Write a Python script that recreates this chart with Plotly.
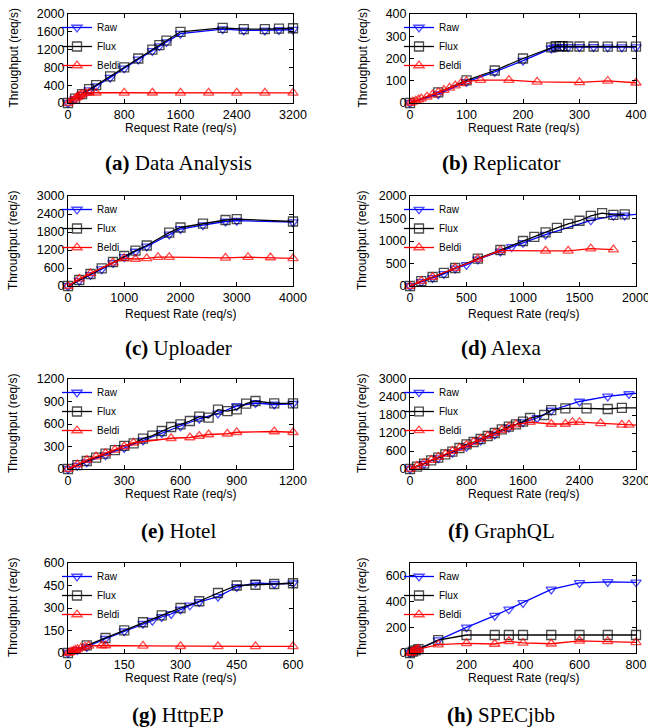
import plotly.graph_objects as go

W, H = 648, 728

# ---------------- data ----------------
# (a) Data Analysis
a_raw_x = [0, 100, 200, 300, 400, 600, 800, 1000, 1200, 1300, 1400, 1600, 2200, 2500, 2800, 3000, 3200]
a_raw_y = [0, 90, 190, 290, 380, 570, 780, 980, 1170, 1280, 1370, 1560, 1660, 1630, 1630, 1640, 1650]
a_flux_x = [0, 100, 200, 300, 400, 600, 800, 1000, 1200, 1300, 1400, 1600, 2200, 2500, 2800, 3000, 3200]
a_flux_y = [0, 100, 200, 310, 400, 600, 800, 1000, 1200, 1300, 1400, 1600, 1690, 1660, 1660, 1670, 1680]
a_beldi_x = [0, 50, 100, 125, 150, 175, 200, 250, 300, 400, 800, 1200, 1600, 2000, 2400, 2800, 3200]
a_beldi_y = [0, 50, 100, 125, 150, 175, 200, 220, 230, 230, 228, 230, 228, 228, 228, 228, 228]

# (b) Replicator
b_raw_x = [0, 50, 100, 150, 200, 250, 255, 260, 270, 280, 300, 325, 350, 375, 400]
b_raw_y = [0, 40, 95, 140, 190, 245, 250, 252, 252, 252, 252, 252, 251, 251, 251]
b_flux_x = [0, 50, 100, 150, 200, 250, 258, 265, 270, 280, 300, 325, 350, 375, 400]
b_flux_y = [0, 48, 102, 146, 200, 250, 255, 256, 255, 254, 254, 254, 253, 253, 253]
b_beldi_x = [0, 5, 10, 15, 20, 30, 40, 50, 60, 70, 80, 90, 100, 125, 175, 225, 300, 350, 400]
b_beldi_y = [0, 5, 10, 15, 20, 28, 38, 48, 58, 68, 78, 88, 97, 103, 103, 95, 93, 99, 91]

# (c) Uploader
c_raw_x = [0, 200, 400, 600, 800, 1000, 1200, 1400, 1800, 2000, 2400, 2800, 3000, 4000]
c_raw_y = [0, 180, 370, 560, 770, 970, 1150, 1320, 1720, 1900, 2030, 2150, 2180, 2130]
c_flux_x = [0, 200, 400, 600, 800, 1000, 1200, 1400, 1800, 2000, 2400, 2800, 3000, 4000]
c_flux_y = [0, 200, 400, 590, 800, 1000, 1180, 1350, 1780, 1950, 2080, 2200, 2230, 2150]
c_beldi_x = [0, 200, 400, 800, 1000, 1200, 1400, 1600, 1800, 2800, 3200, 3600, 4000]
c_beldi_y = [0, 240, 420, 780, 920, 900, 920, 960, 960, 940, 960, 950, 920]

# (d) Alexa
d_raw_x = [0, 100, 200, 300, 400, 500, 600, 800, 900, 1000, 1200, 1600, 1800, 1900, 2000]
d_raw_y = [0, 90, 180, 270, 390, 470, 590, 770, 870, 960, 1140, 1460, 1560, 1570, 1590]
d_flux_x = [0, 100, 200, 300, 400, 600, 800, 1000, 1100, 1200, 1300, 1400, 1500, 1600, 1700, 1800, 1900]
d_flux_y = [0, 110, 200, 290, 400, 610, 800, 1000, 1090, 1190, 1290, 1380, 1450, 1560, 1620, 1580, 1590]
d_beldi_x = [0, 100, 200, 400, 600, 800, 1200, 1400, 1600, 1800]
d_beldi_y = [0, 110, 200, 400, 600, 790, 780, 780, 830, 810]

# (e) Hotel
e_raw_x = [0, 50, 100, 200, 300, 400, 500, 600, 700, 800, 900, 1000, 1100, 1200]
e_raw_y = [0, 45, 90, 185, 280, 380, 480, 570, 670, 740, 840, 880, 860, 870]
e_flux_x = [0, 50, 100, 150, 200, 250, 300, 350, 400, 450, 500, 550, 600, 650, 700,
            750, 800, 850, 900, 950, 1000, 1100, 1200]
e_flux_y = [0, 53, 107, 151, 204, 253, 307, 342, 404, 444, 507, 560, 596, 640, 698,
            684, 791, 773, 796, 871, 907, 876, 876]
e_beldi_x = [0, 50, 100, 150, 200, 250, 300, 350, 550, 650, 700, 750, 850, 900, 1100, 1200]
e_beldi_y = [0, 60, 120, 165, 210, 255, 300, 350, 410, 420, 440, 460, 470, 490, 500, 490]

# (f) GraphQL
f_raw_x = [0, 200, 400, 600, 800, 1000, 1200, 1400, 1600, 1800, 2000, 2400, 2800, 3100, 3200]
f_raw_y = [0, 180, 360, 540, 740, 950, 1150, 1380, 1560, 1700, 1950, 2250, 2420, 2500, 2520]
f_flux_x = [0, 100, 200, 300, 400, 500, 600, 700, 800, 900, 1000, 1100, 1200, 1300, 1400,
            1500, 1600, 1700, 1900, 2000, 2200, 2500, 2800, 3000, 3200]
f_flux_y = [0, 80, 180, 290, 380, 490, 580, 700, 820, 900, 1000, 1100, 1200, 1320, 1410,
            1490, 1580, 1700, 1800, 1960, 2020, 2020, 2000, 2040, 2040]
f_beldi_x = [0, 100, 200, 300, 400, 500, 600, 700, 800, 900, 1000, 1100, 1200, 1300, 1400,
             1500, 1700, 2000, 2200, 2300, 2400, 2700, 3000, 3100, 3200]
f_beldi_y = [0, 100, 200, 300, 400, 500, 600, 700, 800, 900, 1000, 1100, 1200, 1300, 1400,
             1480, 1560, 1500, 1500, 1560, 1560, 1520, 1470, 1470, 1460]

# (g) HttpEP
g_raw_x = [0, 25, 50, 100, 150, 200, 225, 250, 275, 300, 325, 350, 400, 450, 500, 550, 600]
g_raw_y = [0, 20, 40, 95, 145, 195, 216, 240, 260, 290, 318, 340, 376, 440, 468, 460, 465]
g_flux_x = [0, 50, 100, 150, 200, 250, 300, 350, 400, 450, 500, 550, 600]
g_flux_y = [0, 51, 100, 151, 205, 251, 300, 345, 400, 450, 455, 460, 465]
g_beldi_x = [0, 5, 10, 15, 20, 25, 35, 45, 55, 90, 100, 200, 300, 400, 500, 600]
g_beldi_y = [0, 5, 10, 15, 20, 25, 35, 42, 48, 50, 50, 48, 45, 44, 44, 44]

# (h) SPECjbb
h_raw_x = [0, 10, 20, 30, 100, 200, 300, 350, 400, 500, 600, 700, 800]
h_raw_y = [0, 10, 20, 30, 100, 200, 290, 340, 390, 495, 545, 553, 550]
h_flux_x = [0, 10, 20, 30, 100, 200, 300, 350, 400, 500, 600, 700, 800]
h_flux_y = [0, 10, 20, 30, 100, 140, 140, 140, 140, 140, 140, 140, 140]
h_beldi_x = [0, 5, 10, 15, 20, 25, 30, 100, 200, 300, 350, 400, 500, 600, 700, 800]
h_beldi_y = [0, 5, 10, 15, 20, 25, 30, 65, 75, 70, 90, 78, 72, 95, 90, 83]

# axes ranges / ticks
x_ranges = [[0, 3200], [0, 400], [0, 4000], [0, 2000], [0, 1200], [0, 3200], [0, 600], [0, 800]]
x_ticks = [[0, 800, 1600, 2400, 3200], [0, 100, 200, 300, 400], [0, 1000, 2000, 3000, 4000],
           [0, 500, 1000, 1500, 2000], [0, 300, 600, 900, 1200], [0, 800, 1600, 2400, 3200],
           [0, 150, 300, 450, 600], [0, 200, 400, 600, 800]]
y_ranges = [[0, 2000], [0, 400], [0, 3000], [0, 2000], [0, 1200], [0, 3000], [0, 600], [0, 700]]
y_ticks = [[0, 400, 800, 1200, 1600, 2000], [0, 100, 200, 300, 400], [0, 600, 1200, 1800, 2400, 3000],
           [0, 500, 1000, 1500, 2000], [0, 300, 600, 900, 1200], [0, 600, 1200, 1800, 2400, 3000],
           [0, 150, 300, 450, 600], [0, 200, 400, 600]]
caption_tags = ["(a)", "(b)", "(c)", "(d)", "(e)", "(f)", "(g)", "(h)"]
caption_names = ["Data Analysis", "Replicator", "Uploader", "Alexa", "Hotel", "GraphQL", "HttpEP", "SPECjbb"]
series_names = ["Raw", "Flux", "Beldi"]

panels_data = [
    [(a_raw_x, a_raw_y), (a_flux_x, a_flux_y), (a_beldi_x, a_beldi_y)],
    [(b_raw_x, b_raw_y), (b_flux_x, b_flux_y), (b_beldi_x, b_beldi_y)],
    [(c_raw_x, c_raw_y), (c_flux_x, c_flux_y), (c_beldi_x, c_beldi_y)],
    [(d_raw_x, d_raw_y), (d_flux_x, d_flux_y), (d_beldi_x, d_beldi_y)],
    [(e_raw_x, e_raw_y), (e_flux_x, e_flux_y), (e_beldi_x, e_beldi_y)],
    [(f_raw_x, f_raw_y), (f_flux_x, f_flux_y), (f_beldi_x, f_beldi_y)],
    [(g_raw_x, g_raw_y), (g_flux_x, g_flux_y), (g_beldi_x, g_beldi_y)],
    [(h_raw_x, h_raw_y), (h_flux_x, h_flux_y), (h_beldi_x, h_beldi_y)],
]
# series whose last point is only a line end (no marker drawn)
line_only_end = {(3, 0), (5, 0), (5, 1), (5, 2)}

# ---------------- styling / layout ----------------
COLORS = ["#0000ff", "#000000", "#ff0000"]
SYMBOLS = ["triangle-down-open", "square-open", "triangle-up-open"]
MSIZE = [9, 9, 9]
SANS = "Liberation Sans, Arial, Helvetica, sans-serif"
SERIF = "Liberation Serif, Times New Roman, serif"

col_x = [(68, 293), (410, 636)]
row_y = [(14, 103), (196, 286), (379, 469), (563, 653)]
ytitle_x = [13, 362]
xtitle_y = [128, 314, 494, 678]
caption_x = [178, 501]
caption_y = [163, 348, 531, 715]


def px(x):
    return x / W


def py(y):
    return 1 - y / H


fig = go.Figure()
annotations = []
layout = dict(
    width=W, height=H, margin=dict(l=0, r=0, t=0, b=0, autoexpand=False),
    paper_bgcolor="white", plot_bgcolor="white",
    font=dict(family=SANS, size=12, color="black"),
)

for i, series in enumerate(panels_data):
    n = i + 1
    col, row = i % 2, i // 2
    x0, x1 = col_x[col]
    y0, y1 = row_y[row]
    sfx = "" if n == 1 else str(n)
    for s, (xs, ys) in enumerate(series):
        sizes = [MSIZE[s]] * len(xs)
        if (i, s) in line_only_end:
            sizes[-1] = 0
        fig.add_trace(go.Scatter(
            x=xs, y=ys, name=series_names[s], mode="lines+markers",
            xaxis="x" + sfx, yaxis="y" + sfx, legend="legend" + sfx,
            cliponaxis=False,
            line=dict(color=COLORS[s], width=1.3),
            marker=dict(symbol=SYMBOLS[s], size=sizes, color=COLORS[s],
                        line=dict(color=COLORS[s], width=1.3)),
        ))
    axcommon = dict(showline=True, linecolor="black", linewidth=1, mirror="ticks",
                    ticks="inside", ticklen=4, tickcolor="black", showgrid=False,
                    zeroline=False, tickfont=dict(size=12.5, family=SANS), tickmode="array",
                    automargin=False, ticklabeloverflow="allow")
    layout["xaxis" + sfx] = dict(axcommon, domain=[px(x0), px(x1)], range=x_ranges[i],
                                 tickvals=x_ticks[i], anchor="y" + sfx)
    layout["yaxis" + sfx] = dict(axcommon, domain=[py(y1), py(y0)], range=y_ranges[i],
                                 tickvals=y_ticks[i], anchor="x" + sfx)
    layout["legend" + sfx] = dict(
        x=px(x0 - 11), y=py(y0 - 1), xanchor="left", yanchor="top",
        bgcolor="rgba(0,0,0,0)", font=dict(size=10, family=SANS),
        itemwidth=30, tracegroupgap=0,
    )
    annotations.append(dict(
        text="Request Rate (req/s)", x=px((x0 + x1) / 2), y=py(xtitle_y[row]),
        xref="paper", yref="paper", showarrow=False, xanchor="center", yanchor="middle",
        font=dict(size=12, family=SANS)))
    annotations.append(dict(
        text="Throughput (req/s)", x=px(ytitle_x[col]), y=py((y0 + y1) / 2),
        xref="paper", yref="paper", showarrow=False, textangle=-90,
        xanchor="center", yanchor="middle", font=dict(size=12, family=SANS)))
    annotations.append(dict(
        text="<b>" + caption_tags[i] + "</b> " + caption_names[i],
        x=px(caption_x[col]), y=py(caption_y[row]),
        xref="paper", yref="paper", showarrow=False, xanchor="center", yanchor="middle",
        font=dict(size=21, family=SERIF)))

layout["annotations"] = annotations
fig.update_layout(**layout)
fig.write_html("out.html", config={"displayModeBar": False},
               post_script="document.body.style.margin='0px';")
